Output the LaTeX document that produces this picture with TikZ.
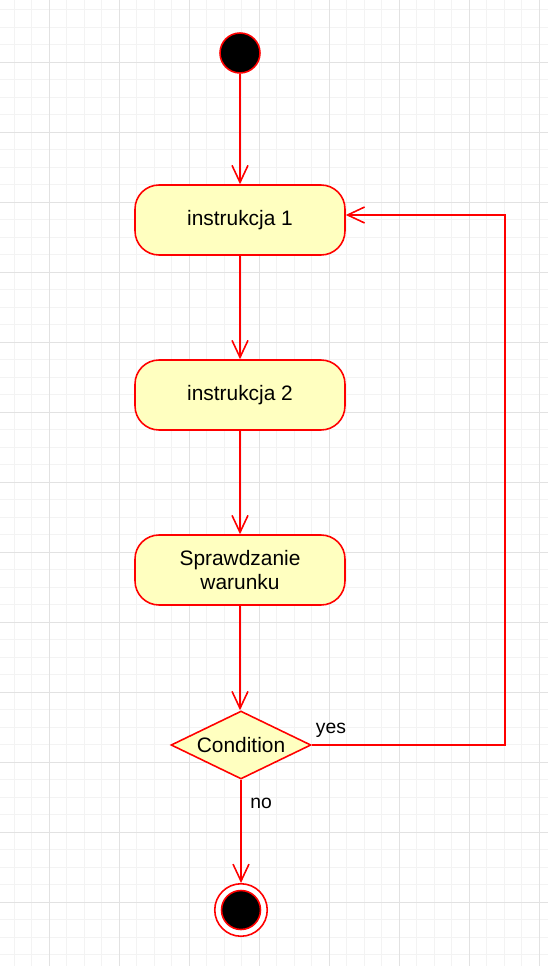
\documentclass[tikz,border=0pt]{standalone}
\usepackage{fontspec}
\setmainfont{Liberation Sans}
\usetikzlibrary{shapes.geometric,arrows.meta}
\definecolor{umlred}{HTML}{FF0000}
\definecolor{umlfill}{HTML}{FFFFC0}
\definecolor{gridmajor}{HTML}{E2E2E2}
\definecolor{gridminor}{HTML}{F3F3F3}
\tikzset{
	action/.style={rectangle, rounded corners=0.48cm, draw=umlred, fill=umlfill, line width=0.9pt,
		minimum width=4.2cm, minimum height=1.4cm, align=center, font=\fontsize{11.9}{13.6}\selectfont},
	decision/.style={diamond, aspect=2, draw=umlred, fill=umlfill, line width=0.9pt, inner sep=0pt,
		minimum width=2.8cm, minimum height=1.36cm, font=\fontsize{11.9}{14}\selectfont},
	startdot/.style={circle, draw=umlred, fill=black, line width=0.9pt, minimum size=0.8cm, inner sep=0pt},
	endring/.style={circle, draw=umlred, fill=white, line width=0.9pt, minimum size=1.05cm, inner sep=0pt},
	enddot/.style={circle, draw=umlred, fill=black, line width=0.9pt, minimum size=0.78cm, inner sep=0pt},
	flow/.style={draw=umlred, line width=0.9pt, -{Straight Barb[length=3.4mm,width=3.2mm]}},
	guard/.style={font=\fontsize{11}{13}\selectfont}
}
\begin{document}
\begin{tikzpicture}[x=0.02cm, y=-0.02cm]
		\useasboundingbox (0,0) rectangle (548,966);
		% grid
		\foreach \i in {0,...,30} \draw[gridminor,line width=0.45pt] ({14+17.5*\i},0) -- ({14+17.5*\i},966);
		\foreach \i in {0,...,54} \draw[gridminor,line width=0.45pt] (0,{9.5+17.5*\i}) -- (548,{9.5+17.5*\i});
		\foreach \i in {0,...,7} \draw[gridmajor,line width=0.5pt] ({49+70*\i},0) -- ({49+70*\i},966);
		\foreach \i in {0,...,12} \draw[gridmajor,line width=0.5pt] (0,{62+70*\i}) -- (548,{62+70*\i});
		% nodes
		\node[startdot] (start) at (240,53) {};
		\node[action] (instr1) at (240,220) {instrukcja 1};
		\node[action] (instr2) at (240,395) {instrukcja 2};
		\node[action] (check) at (240,570) {Sprawdzanie\\warunku};
		\node[decision] (cond) at (241,745) {Condition};
		\node[endring] (stop) at (241,910) {};
		\node[enddot] (stopdot) at (241,910) {};
		% flow
		\draw[flow] (start) -- (instr1);
		\draw[flow] (instr1) -- (instr2);
		\draw[flow] (instr2) -- (check);
		\draw[flow] (check) -- (check |- cond.north);
		\draw[flow] (cond) -- (stop);
		\draw[flow] (cond.east) -- ++(193,0) |- ([yshift=0.1cm]instr1.east);
		% guards
		\node[guard] (yes) at (331,730) {yes};
		\node[guard] (no) at (261,803) {no};
	\end{tikzpicture}
\end{document}
